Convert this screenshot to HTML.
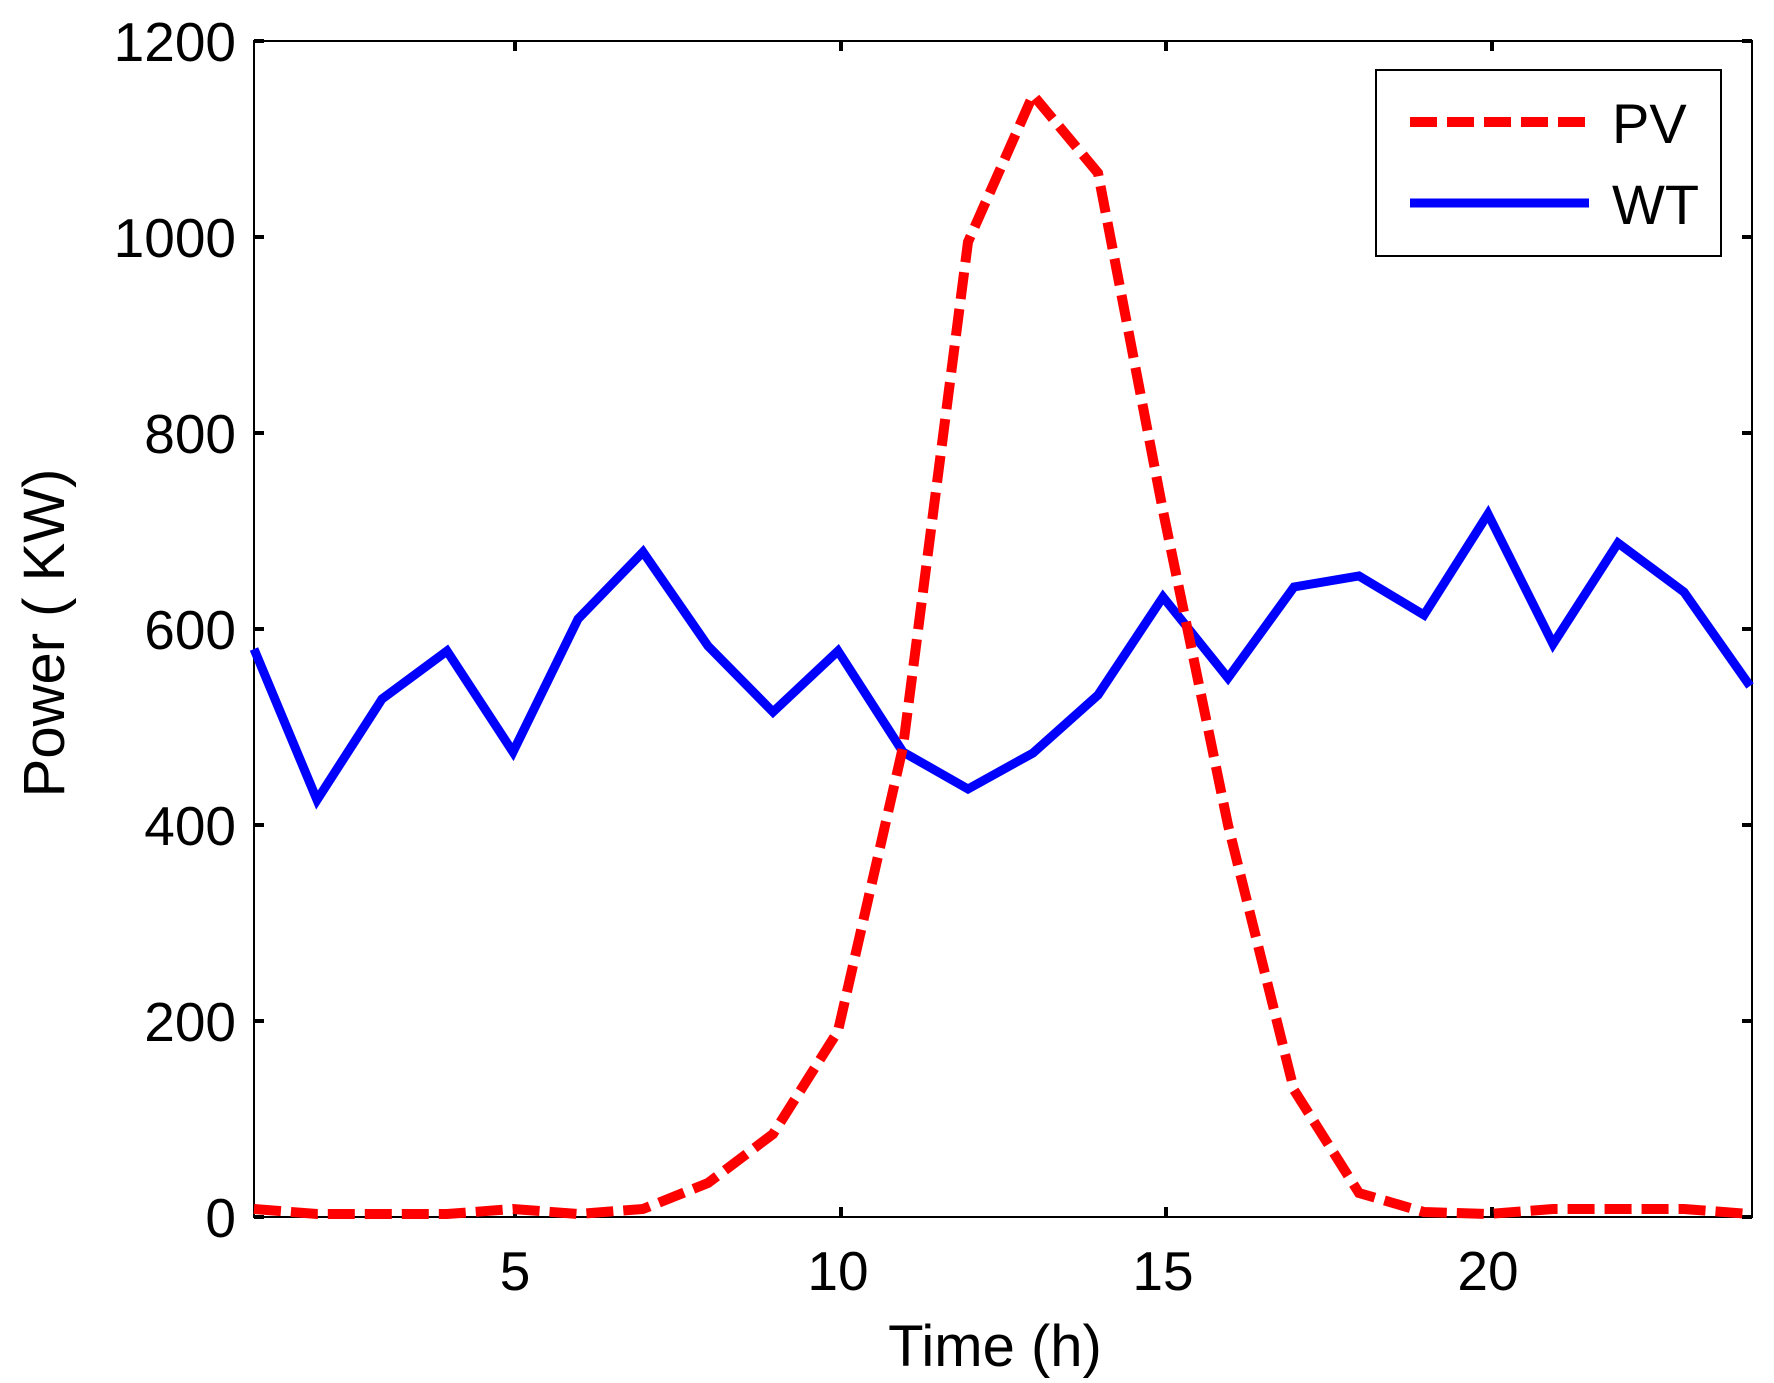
<!DOCTYPE html>
<html><head><style>body{margin:0;background:#fff}svg{display:block}</style></head><body>
<svg width="1774" height="1383" xmlns="http://www.w3.org/2000/svg" font-family="Liberation Sans, sans-serif">
<rect width="1774" height="1383" fill="#fff"/>
<rect x="254" y="41" width="1498" height="1176" fill="none" stroke="#000" stroke-width="2"/>
<g stroke="#000" stroke-width="4">
<path d="M515,1217v-10M841,1217v-10M1166,1217v-10M1492,1217v-10M515,41v10M841,41v10M1166,41v10M1492,41v10"/>
<path d="M254,1217h10M254,1021h10M254,825h10M254,629h10M254,433h10M254,237h10M254,41h10M1752,1217h-10M1752,1021h-10M1752,825h-10M1752,629h-10M1752,433h-10M1752,237h-10M1752,41h-10"/>
</g>
<g font-size="55" text-anchor="end" fill="#000">
<text x="236" y="1237">0</text><text x="236" y="1041">200</text><text x="236" y="845">400</text><text x="236" y="649">600</text><text x="236" y="453">800</text><text x="236" y="257">1000</text><text x="236" y="61">1200</text>
</g>
<g font-size="55" text-anchor="middle" fill="#000">
<text x="515" y="1290">5</text><text x="838" y="1290">10</text><text x="1163" y="1290">15</text><text x="1488" y="1290">20</text>
<text x="995" y="1366" font-size="58">Time (h)</text>
<text transform="translate(64,633) rotate(-90)" font-size="58">Power ( KW)</text>
</g>
<polyline fill="none" stroke="#00f" stroke-width="9" stroke-linejoin="miter" points="254,649 317,800 382,699 447,651 513,752 578,619 643,552 708,646 773,712 838,651 903,752 968,789 1033,753 1098,695 1163,597 1228,678 1294,587 1359,576 1424,615 1488,514 1553,644 1618,543 1684,592 1750,686"/>
<polyline fill="none" stroke="#f00" stroke-width="10" stroke-dasharray="27,10" points="254,1209 317,1214 382,1214 447,1214 513,1209 578,1214 643,1209 708,1183 773,1134 838,1031 903,747 968,242 1033,95 1098,173 1163,511 1228,825 1294,1090 1359,1193 1424,1212 1488,1214 1553,1209 1618,1209 1684,1209 1750,1214"/>
<rect x="1376" y="70" width="345" height="186" fill="#fff" stroke="#000" stroke-width="2"/>
<line x1="1410" y1="122" x2="1589" y2="122" stroke="#f00" stroke-width="10" stroke-dasharray="27,10"/>
<line x1="1410" y1="203" x2="1589" y2="203" stroke="#00f" stroke-width="9"/>
<g font-size="56" fill="#000"><text x="1612" y="143">PV</text><text x="1612" y="224">WT</text></g>
</svg>
</body></html>
